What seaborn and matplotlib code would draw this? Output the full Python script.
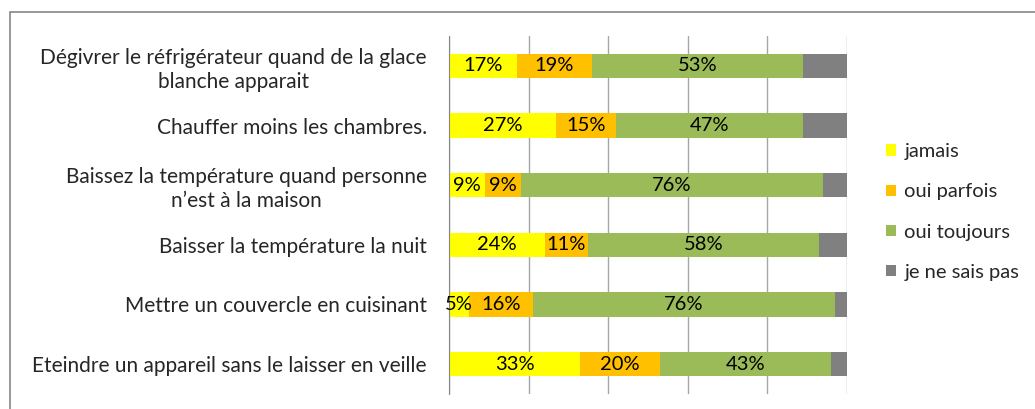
import numpy as np
import pandas as pd
import matplotlib.pyplot as plt
import seaborn as sns
from matplotlib.patches import Patch, Rectangle

# data (percent)
categories = [
    "Dégivrer le réfrigérateur quand de la glace\nblanche apparait",
    "Chauffer moins les chambres.",
    "Baissez la température quand personne\nn\u2019est à la maison",
    "Baisser la température la nuit",
    "Mettre un couvercle en cuisinant",
    "Eteindre un appareil sans le laisser en veille",
]
series = ["jamais", "oui parfois", "oui toujours", "je ne sais pas"]
jamais = [17, 27, 9, 24, 5, 33]
parfois = [19, 15, 9, 11, 16, 20]
toujours = [53, 47, 76, 58, 76, 43]
nsp = [11, 11, 6, 7, 3, 4]
colors = ["#FFFF00", "#FFC000", "#9BBB59", "#808080"]

sns.set_style("white")
plt.rcParams["font.family"] = ["Lato", "DejaVu Sans"]

vals = np.array([jamais, parfois, toujours, nsp], dtype=float)
cum = vals.cumsum(axis=0)

fig = plt.figure(figsize=(10.35, 4.09), dpi=100)
ax = fig.add_axes([449 / 1035, 1 - 394 / 409, 398 / 1035, 358 / 409])

# stacked bars: draw cumulative totals from the last series back to the first
for i in range(len(series) - 1, -1, -1):
    df = pd.DataFrame({"cat": categories, "val": cum[i]})
    sns.barplot(data=df, x="val", y="cat", orient="h", color=colors[i],
                width=0.41, saturation=1, ax=ax, linewidth=0)

# value labels (not for "je ne sais pas")
for i in range(3):
    for j in range(len(categories)):
        left = cum[i][j] - vals[i][j]
        ax.text(left + vals[i][j] / 2, j, f"{int(vals[i][j])}%",
                ha="center", va="center", fontsize=14.5, color="black")

ax.set_xlim(0, 100)
ax.set_ylim(len(categories) - 0.5, -0.5)
ax.set_xlabel("")
ax.set_ylabel("")
ax.set_xticks([0, 20, 40, 60, 80, 100])
ax.set_xticklabels([])
ax.tick_params(axis="x", length=0)
ax.grid(axis="x", color="#A6A6A6", linewidth=1)
ax.set_axisbelow(True)
for s in ["top", "right", "bottom"]:
    ax.spines[s].set_visible(False)
ax.spines["left"].set_color("#868686")

# category labels, ticks between categories
ax.set_yticks(np.arange(len(categories)))
ax.set_yticklabels(categories, fontsize=15, multialignment="center",
                   linespacing=1.25)
ax.set_yticks(np.arange(len(categories) + 1) - 0.5, minor=True)
ax.tick_params(axis="y", which="major", length=0, pad=16)
ax.tick_params(axis="y", which="minor", length=5, color="#868686", direction="out")

handles = [Patch(facecolor=c, edgecolor="none") for c in colors]
fig.legend(handles, series, loc="center left", bbox_to_anchor=(868 / 1035, 1 - 212 / 409),
           frameon=False, fontsize=14.5, handlelength=0.5, handleheight=0.5,
           handletextpad=0.4, labelspacing=1.15)

# outer frame of the chart area
fig.patches.append(Rectangle((10 / 1035, -0.1), 1.2, 1 - 12 / 409 + 0.1,
                             transform=fig.transFigure, fill=False,
                             edgecolor="#868686", linewidth=1.2))

fig.savefig("out.png", dpi=100)
